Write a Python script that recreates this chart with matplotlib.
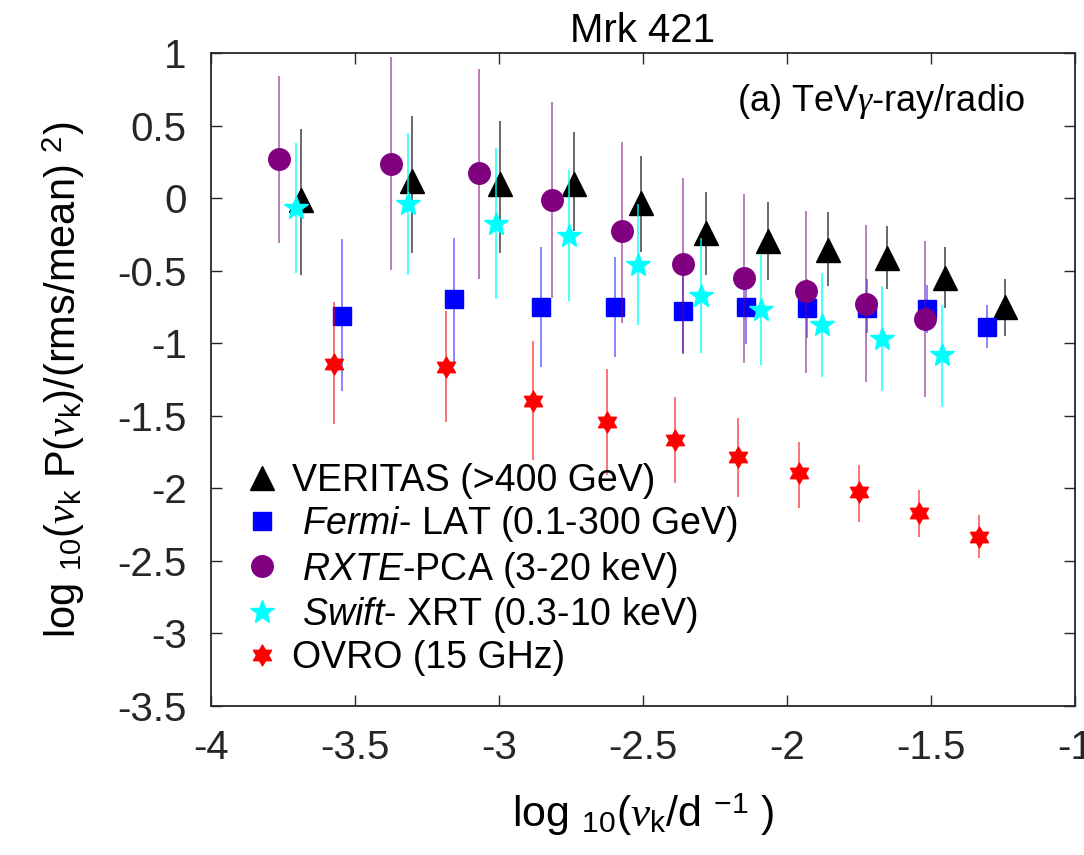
import matplotlib
matplotlib.use('Agg')
import matplotlib.pyplot as plt
import numpy as np
from matplotlib.path import Path
from matplotlib.ticker import FuncFormatter

plt.rcParams['font.family'] = ['Liberation Sans', 'DejaVu Sans']
plt.rcParams['mathtext.fontset'] = 'custom'
plt.rcParams['mathtext.rm'] = 'Liberation Sans'
plt.rcParams['mathtext.it'] = 'Liberation Serif:italic'   # greek letters
plt.rcParams['mathtext.sf'] = 'Liberation Sans:italic'    # italic instrument names
plt.rcParams['axes.unicode_minus'] = False

# VERITAS (>400 GeV)
veritas_x = [-3.689, -3.301, -2.998, -2.740, -2.506, -2.281, -2.067, -1.859, -1.654, -1.450, -1.243]
veritas_y = [-0.010, 0.119, 0.094, 0.099, -0.035, -0.241, -0.299, -0.361, -0.414, -0.552, -0.752]
veritas_hi = [0.478, 0.568, 0.533, 0.455, 0.292, 0.039, -0.030, -0.099, -0.191, -0.338, -0.559]
veritas_lo = [-0.529, -0.375, -0.379, -0.230, -0.368, -0.529, -0.563, -0.603, -0.628, -0.759, -0.950]

# Fermi-LAT (0.1-300 GeV)
fermi_x = [-3.545, -3.156, -2.853, -2.597, -2.362, -2.143, -1.931, -1.723, -1.515, -1.307]
fermi_y = [-0.812, -0.697, -0.747, -0.747, -0.781, -0.747, -0.759, -0.759, -0.766, -0.885]
fermi_hi = [-0.283, -0.272, -0.334, -0.407, -0.490, -0.620, -0.559, -0.559, -0.598, -0.736]
fermi_lo = [-1.329, -1.127, -1.161, -1.092, -1.070, -1.007, -0.966, -0.931, -0.931, -1.034]

# RXTE-PCA (3-20 keV)
rxte_x = [-3.764, -3.375, -3.071, -2.815, -2.574, -2.362, -2.149, -1.935, -1.727, -1.521]
rxte_y = [0.269, 0.237, 0.172, -0.016, -0.230, -0.453, -0.548, -0.639, -0.729, -0.832]
rxte_hi = [0.843, 0.972, 0.890, 0.660, 0.390, 0.138, 0.028, -0.088, -0.184, -0.299]
rxte_lo = [-0.310, -0.494, -0.557, -0.685, -0.862, -1.074, -1.134, -1.203, -1.269, -1.372]

# Swift-XRT (0.3-10 keV)
swift_x = [-3.706, -3.315, -3.010, -2.756, -2.516, -2.300, -2.089, -1.877, -1.669, -1.463]
swift_y = [-0.069, -0.039, -0.177, -0.258, -0.460, -0.672, -0.770, -0.874, -0.972, -1.080]
swift_hi = [0.383, 0.452, 0.345, 0.195, -0.041, -0.272, -0.391, -0.513, -0.605, -0.736]
swift_lo = [-0.517, -0.529, -0.694, -0.706, -0.874, -1.069, -1.150, -1.230, -1.329, -1.441]

# OVRO (15 GHz)
ovro_x = [-3.573, -3.184, -2.881, -2.624, -2.388, -2.171, -1.957, -1.749, -1.542, -1.333]
ovro_y = [-1.143, -1.161, -1.396, -1.540, -1.667, -1.782, -1.897, -2.028, -2.172, -2.338]
ovro_hi = [-0.717, -0.777, -0.984, -1.177, -1.368, -1.517, -1.678, -1.840, -2.012, -2.186]
ovro_lo = [-1.557, -1.540, -1.805, -1.908, -1.966, -2.062, -2.138, -2.230, -2.338, -2.480]

hexagram = Path.unit_regular_star(6, 0.577)

series = [
    (veritas_x, veritas_y, veritas_lo, veritas_hi, 'k', '^', 17, 'VERITAS (>400 GeV)', 0.75),
    (fermi_x, fermi_y, fermi_lo, fermi_hi, 'b', 's', 12.5, r' $\mathsf{Fermi}$- LAT (0.1-300 GeV)', 0.6),
    (rxte_x, rxte_y, rxte_lo, rxte_hi, 'purple', 'o', 15.5, r' $\mathsf{RXTE}$-PCA (3-20 keV)', 0.65),
    (swift_x, swift_y, swift_lo, swift_hi, 'cyan', '*', 18, r' $\mathsf{Swift}$- XRT (0.3-10 keV)', 0.9),
    (ovro_x, ovro_y, ovro_lo, ovro_hi, 'red', hexagram, 15, 'OVRO (15 GHz)', 0.7),
]

fig = plt.figure(figsize=(10.84, 8.55), dpi=100)
ax = fig.add_axes([0.1946, 0.1743, 0.7971, 0.7637])

for x, y, lo, hi, c, m, ms, lab, a in series:
    x = np.array(x); y = np.array(y)
    yerr = [y - np.array(lo), np.array(hi) - y]
    ax.errorbar(x, y, yerr=yerr, fmt='none', ecolor=c, elinewidth=1.1, alpha=a, capsize=0)
    ax.plot(x, y, linestyle='none', marker=m, markersize=ms, color=c,
            markeredgecolor=c, label=lab)

ax.set_xlim(-4, -1)
ax.set_ylim(-3.5, 1)
ax.set_xticks(np.arange(-4, -0.99, 0.5))
ax.set_yticks(np.arange(-3.5, 1.01, 0.5))
fmt = FuncFormatter(lambda v, p: '%g' % round(v, 2))
ax.xaxis.set_major_formatter(fmt)
ax.yaxis.set_major_formatter(fmt)
ax.tick_params(direction='in', length=8, width=1, top=True, right=True,
               labelsize=29, colors='0.15', labelcolor='0.15')
ax.tick_params(axis='x', pad=16.5)
ax.tick_params(axis='y', pad=17.5)
for s in ax.spines.values():
    s.set_linewidth(1.3)
    s.set_color('0.15')

ax.set_title('Mrk 421', fontsize=29, pad=8)
ax.set_xlabel(r'log $_{10}$($\nu_{\rm k}$/d $^{-1}$ )', fontsize=31, labelpad=18)
ax.set_ylabel(r'log $_{10}$($\nu_{\rm k}$ P($\nu_{\rm k}$)/(rms/mean) $^{2}$)', fontsize=30, labelpad=22)
ax.text(0.942, 0.955, r'(a) TeV$\gamma$-ray/radio', transform=ax.transAxes,
        fontsize=26, ha='right', va='top')

ax.legend(loc='upper left', bbox_to_anchor=(0.037, 0.372), frameon=False, fontsize=27,
          handlelength=1.0, handletextpad=0.3, labelspacing=0.14, borderpad=0, borderaxespad=0,
          numpoints=1)

fig.savefig('out.png', dpi=100)
